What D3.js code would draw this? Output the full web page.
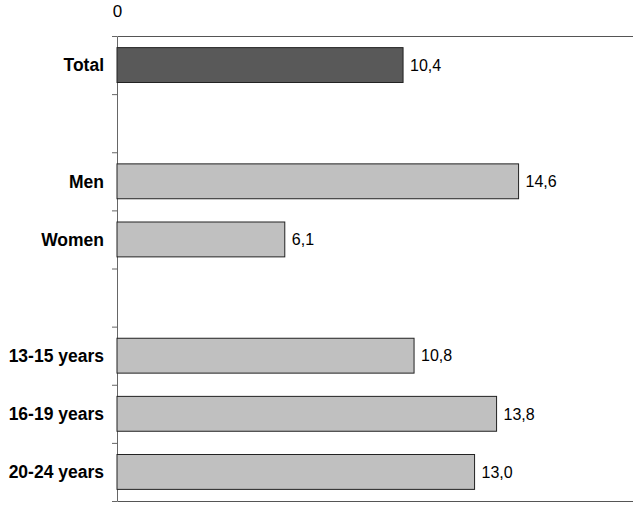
<!DOCTYPE html>
<html>
<head>
<meta charset="utf-8">
<script src="https://cdn.jsdelivr.net/npm/d3@7"></script>
<style>
  body { margin: 0; background: #fff; }
  svg { display: block; font-family: "Liberation Sans", Arial, sans-serif; }
</style>
</head>
<body>
<div id="chart"></div>
<script>
let w = 633;
let h = 515;
let margin = { top: 36, right: 0, bottom: 14, left: 117 };

// rows from top to bottom, the gap rows are empty spacers
let categories = ["Total", "gap1", "Men", "Women", "gap2", "13-15 years", "16-19 years", "20-24 years"];
let labels = ["Total", "", "Men", "Women", "", "13-15 years", "16-19 years", "20-24 years"];
let values = [10.4, null, 14.6, 6.1, null, 10.8, 13.8, 13.0];
let xMax = 18.76;

let rows = categories.map((c, i) => ({ key: c, label: labels[i], value: values[i], total: i === 0 }));

let svg = d3.select("#chart")
            .append("svg")
            .attr("width", w)
            .attr("height", h);

let xScale = d3.scaleLinear([0, xMax], [margin.left, w - margin.right]);
let yScale = d3.scaleBand(categories, [margin.top, h - margin.bottom]).paddingInner(0.4).paddingOuter(0.2);
let yEdges = d3.scaleLinear([0, categories.length], [margin.top, h - margin.bottom]);

// top axis, only the 0 label
let xAxisTop = d3.axisTop(xScale).tickValues([0]).tickSize(0).tickPadding(19).tickSizeOuter(0);
let gTop = svg.append("g")
   .attr("transform", `translate(0,${margin.top})`)
   .attr("font-family", null)
   .call(xAxisTop);
gTop.attr("font-family", null);
gTop.select(".domain").attr("stroke", "#555");
gTop.selectAll("text").attr("font-size", 17).attr("fill", "#000");

// bottom line
let gBottom = svg.append("g")
   .attr("transform", `translate(0,${h - margin.bottom})`)
   .call(d3.axisBottom(xScale).tickValues([]).tickSizeOuter(0));
gBottom.select(".domain").attr("stroke", "#555");

// left axis, ticks sit on row boundaries
let yAxis = d3.axisLeft(yEdges).ticks(categories.length).tickFormat("").tickSize(5).tickSizeOuter(0);
let gLeft = svg.append("g")
   .attr("transform", `translate(${margin.left},0)`)
   .call(yAxis);
gLeft.select(".domain").attr("stroke", "#666");
gLeft.selectAll(".tick line").attr("stroke", "#666");

let bars = rows.filter((d) => d.value !== null);

svg.selectAll("rect.bar")
   .data(bars)
   .enter()
   .append("rect")
   .attr("class", "bar")
   .attr("x", xScale(0))
   .attr("y", (d) => yScale(d.key))
   .attr("width", (d) => xScale(d.value) - xScale(0))
   .attr("height", yScale.bandwidth())
   .attr("fill", (d) => d.total ? "#595959" : "#c0c0c0")
   .attr("stroke", "#222")
   .attr("stroke-width", 1);

svg.selectAll("text.val")
   .data(bars)
   .enter()
   .append("text")
   .attr("class", "val")
   .attr("x", (d) => xScale(d.value) + 7)
   .attr("y", (d) => yScale(d.key) + yScale.bandwidth() / 2)
   .attr("dy", "0.36em")
   .attr("font-size", 16)
   .text((d) => d.value.toFixed(1).replace(".", ","));

svg.selectAll("text.cat")
   .data(rows.filter((d) => d.label !== ""))
   .enter()
   .append("text")
   .attr("class", "cat")
   .attr("x", margin.left - 13)
   .attr("y", (d) => yScale(d.key) + yScale.bandwidth() / 2)
   .attr("dy", "0.36em")
   .attr("text-anchor", "end")
   .attr("font-size", 17.5)
   .attr("font-weight", "bold")
   .text((d) => d.label);
</script>
</body>
</html>
